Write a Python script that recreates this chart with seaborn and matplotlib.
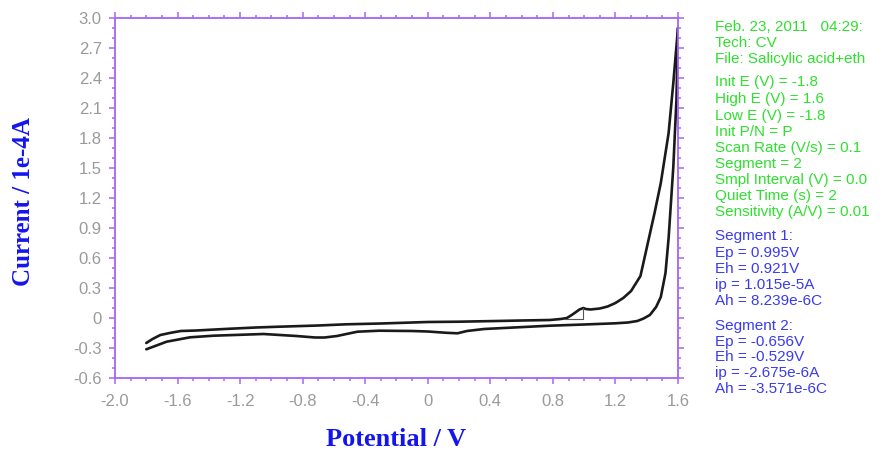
import matplotlib
matplotlib.use("Agg")
import numpy as np
import pandas as pd
import matplotlib.pyplot as plt
from matplotlib.ticker import MultipleLocator
import seaborn as sns

# Segmento 1: barrido positivo (-1.8 -> 1.6 V)
pot_fwd = [-1.80, -1.76, -1.71, -1.65, -1.58, -1.48, -1.30, -1.10, -0.95,
           -0.70, -0.52, -0.30, 0.00, 0.20, 0.44, 0.60, 0.78, 0.85, 0.89,
           0.93, 0.97, 0.995, 1.01, 1.04, 1.10, 1.15, 1.20, 1.25, 1.30,
           1.36, 1.40, 1.45, 1.49, 1.54, 1.57, 1.60]
cur_fwd = [-0.25, -0.21, -0.17, -0.15, -0.13, -0.125, -0.11, -0.095, -0.087,
           -0.075, -0.063, -0.055, -0.040, -0.037, -0.030, -0.025, -0.020,
           -0.010, 0.000, 0.040, 0.085, 0.100, 0.090, 0.085, 0.095, 0.115,
           0.150, 0.200, 0.270, 0.420, 0.700, 1.050, 1.350, 1.850, 2.350,
           2.900]

# Segmento 2: barrido negativo (1.6 -> -1.8 V)
pot_rev = [1.60, 1.59, 1.57, 1.54, 1.52, 1.49, 1.46, 1.42, 1.38, 1.34, 1.28,
           1.20, 1.00, 0.78, 0.55, 0.36, 0.25, 0.19, 0.12, 0.00, -0.10, -0.31,
           -0.45, -0.52, -0.58, -0.66, -0.72, -0.84, -1.05, -1.37, -1.52,
           -1.67, -1.80]
cur_rev = [2.90, 2.18, 1.51, 0.80, 0.45, 0.21, 0.11, 0.03, -0.005, -0.030,
           -0.045, -0.053, -0.065, -0.077, -0.095, -0.110, -0.130, -0.153,
           -0.148, -0.135, -0.130, -0.127, -0.137, -0.160, -0.180, -0.195,
           -0.195, -0.180, -0.160, -0.177, -0.193, -0.237, -0.313]

# Línea base del pico del segmento 1
base_pot = [0.87, 0.995, 0.995]
base_cur = [-0.013, -0.013, 0.100]

info_verde = [
    "Feb. 23, 2011   04:29:",
    "Tech: CV",
    "File: Salicylic acid+eth",
    "Init E (V) = -1.8",
    "High E (V) = 1.6",
    "Low E (V) = -1.8",
    "Init P/N = P",
    "Scan Rate (V/s) = 0.1",
    "Segment = 2",
    "Smpl Interval (V) = 0.0",
    "Quiet Time (s) = 2",
    "Sensitivity (A/V) = 0.01",
]
y_verde = [27, 43, 59, 82, 99, 116, 132, 148, 164, 180, 196, 212]

info_azul = [
    "Segment 1:",
    "Ep = 0.995V",
    "Eh = 0.921V",
    "ip = 1.015e-5A",
    "Ah = 8.239e-6C",
    "Segment 2:",
    "Ep = -0.656V",
    "Eh = -0.529V",
    "ip = -2.675e-6A",
    "Ah = -3.571e-6C",
]
y_azul = [236, 253, 269, 285, 301, 326, 342, 357, 373, 389]

# ─── Estilo ──────────────────────────────────────────────────────────────────
sns.set_theme(style="white")
plt.rcParams["font.family"] = ["Liberation Sans", "DejaVu Sans"]

morado = "#a664f5"
gris = "#9a9a9a"

df_fwd = pd.DataFrame({"pot": pot_fwd, "cur": cur_fwd})
df_rev = pd.DataFrame({"pot": pot_rev, "cur": cur_rev})
df_base = pd.DataFrame({"pot": base_pot, "cur": base_cur})

W, H = 881, 450
fig = plt.figure(figsize=(W / 100, H / 100), dpi=100)
ax = fig.add_axes([115 / W, 1 - 378 / H, 563 / W, 360 / H])

sns.lineplot(data=df_fwd, x="pot", y="cur", sort=False, estimator=None,
             color="#1a1a1a", linewidth=1.9, ax=ax)
sns.lineplot(data=df_rev, x="pot", y="cur", sort=False, estimator=None,
             color="#1a1a1a", linewidth=1.9, ax=ax)
sns.lineplot(data=df_base, x="pot", y="cur", sort=False, estimator=None,
             color="#555555", linewidth=0.8, ax=ax)

ax.set_xlim(-2.0, 1.6)
ax.set_ylim(-0.6, 3.0)
ax.xaxis.set_major_locator(MultipleLocator(0.4))
ax.xaxis.set_minor_locator(MultipleLocator(0.1))
ax.yaxis.set_major_locator(MultipleLocator(0.3))
ax.yaxis.set_minor_locator(MultipleLocator(0.1))
ax.xaxis.set_major_formatter(lambda v, p: "0" if abs(v) < 1e-9 else f"{v:.1f}")
ax.yaxis.set_major_formatter(lambda v, p: "0" if abs(v) < 1e-9 else f"{v:.1f}")

for s in ax.spines.values():
    s.set_color(morado)
    s.set_linewidth(1.3)
ax.tick_params(which="both", direction="out", color=morado, width=1.1,
               top=True, right=True, bottom=True, left=True)
ax.tick_params(which="major", length=4.5, labelsize=12, labelcolor=gris,
               pad=5)
ax.tick_params(which="minor", length=2.5)
ax.tick_params(axis="x", which="major", pad=7)

ax.set_xlabel("Potential / V", family=["Liberation Serif"], fontsize=19,
              fontweight="bold", color="#1414ee", va="center")
ax.xaxis.set_label_coords(0.499, -0.172)
ax.set_ylabel("Current / 1e-4A", family=["Liberation Serif"], fontsize=18,
              fontweight="bold", color="#1414ee", va="center")
ax.yaxis.set_label_coords(-0.163, 0.489)

for txt, y in zip(info_verde, y_verde):
    fig.text(715 / W, 1 - y / H, txt, color="#2fe02f", fontsize=11,
             va="center", ha="left")
for txt, y in zip(info_azul, y_azul):
    fig.text(715 / W, 1 - y / H, txt, color="#3a3af0", fontsize=11,
             va="center", ha="left")

plt.savefig("out.png", dpi=100)
